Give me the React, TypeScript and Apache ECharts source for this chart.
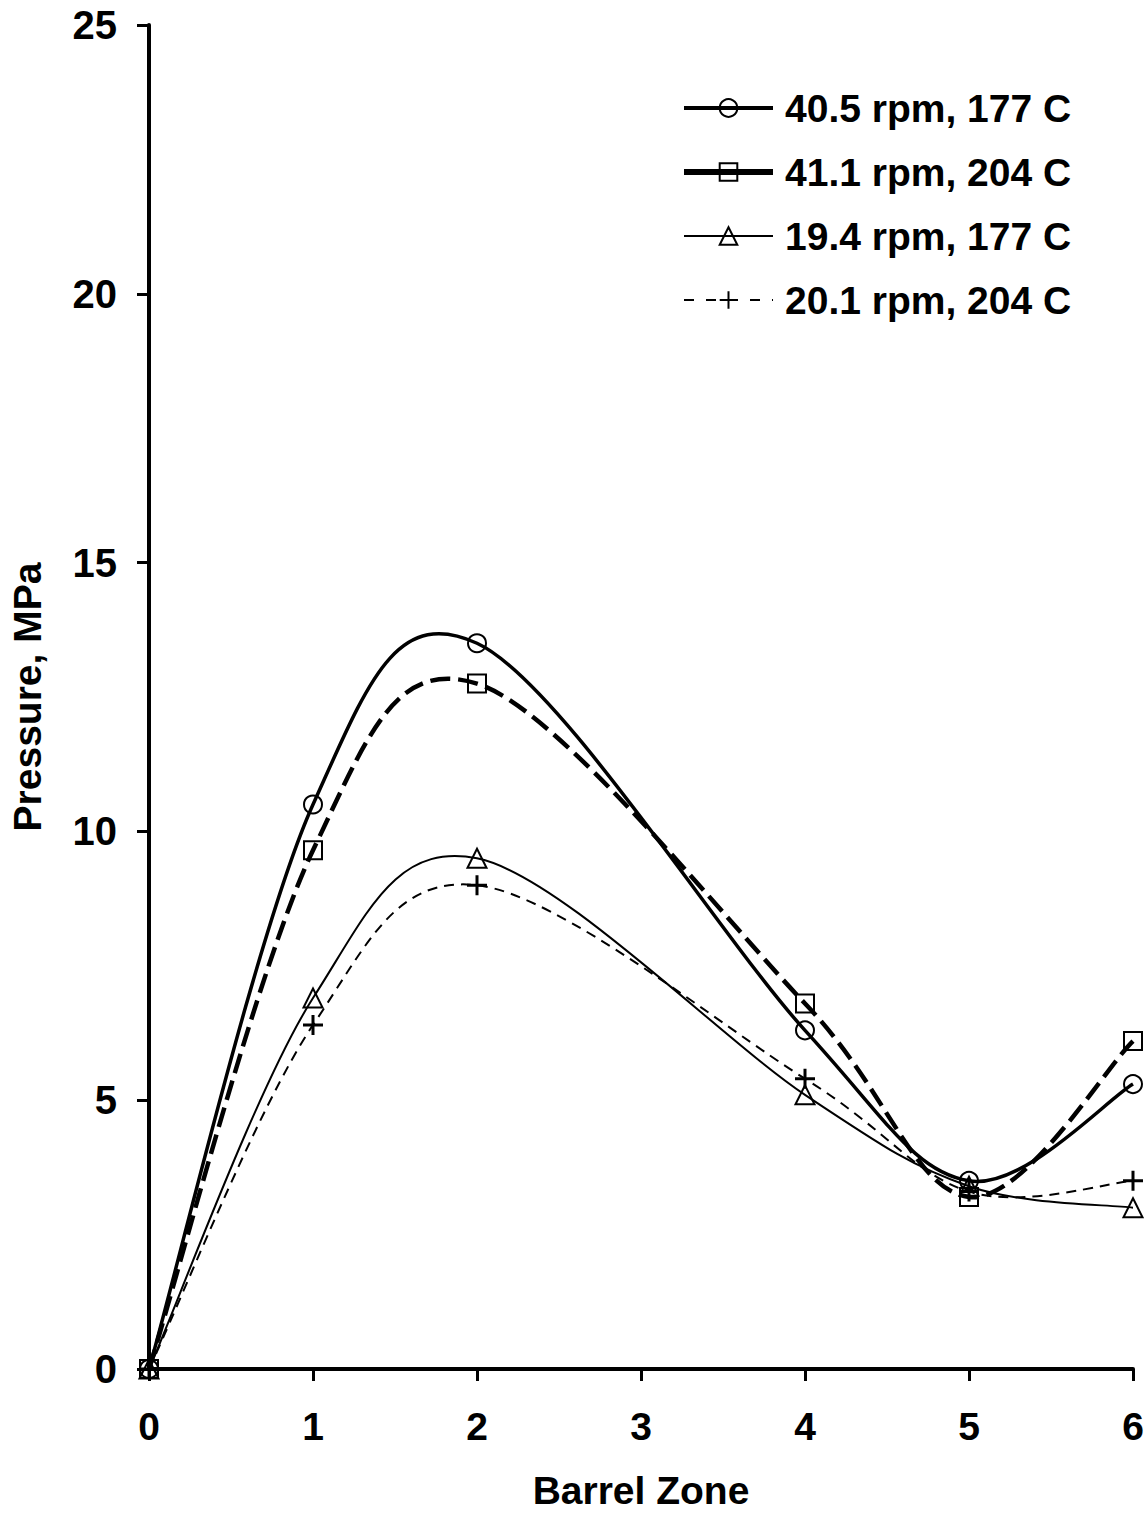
import React, { useEffect, useRef } from "react";
import * as echarts from "echarts";

const zones = [0, 1, 2, 4, 5, 6];
const s1Values = [0, 10.5, 13.5, 6.3, 3.5, 5.3];
const s2Values = [0, 9.65, 12.75, 6.8, 3.2, 6.1];
const s3Values = [0, 6.9, 9.5, 5.1, 3.4, 3.0];
const s4Values = [0, 6.4, 9.0, 5.4, 3.3, 3.5];
const seriesNames = ["40.5 rpm, 177 C", "41.1 rpm, 204 C", "19.4 rpm, 177 C", "20.1 rpm, 204 C"];
const yTicks = [0, 5, 10, 15, 20, 25];
const xTicks = [0, 1, 2, 3, 4, 5, 6];

const FONT = "Liberation Sans, Arial, sans-serif";
const PLUS = "path://M5,0 L5,10 M0,5 L10,5";

function pairs(vals: number[]) {
  return zones.map((z, i) => [z, vals[i]]);
}

// Excel-like smoothed line (Catmull-Rom through the points, via the axis scales)
function smoothCurveSeries(vals: number[], width: number, dash: number[] | null, z: number) {
  const data = pairs(vals);
  return {
    type: "custom",
    silent: true,
    z,
    clip: false,
    data,
    encode: { x: 0, y: 1 },
    renderItem: (params: any, api: any) => {
      if (params.dataIndex !== 0) return null;
      const p = data.map((d) => api.coord(d));
      const n = p.length;
      let d = `M${p[0][0]},${p[0][1]}`;
      for (let i = 0; i < n - 1; i++) {
        const p0 = p[Math.max(i - 1, 0)];
        const p1 = p[i];
        const p2 = p[i + 1];
        const p3 = p[Math.min(i + 2, n - 1)];
        const c1x = p1[0] + (p2[0] - p0[0]) / 6;
        const c1y = p1[1] + (p2[1] - p0[1]) / 6;
        const c2x = p2[0] - (p3[0] - p1[0]) / 6;
        const c2y = p2[1] - (p3[1] - p1[1]) / 6;
        d += ` C${c1x},${c1y} ${c2x},${c2y} ${p2[0]},${p2[1]}`;
      }
      return {
        type: "path",
        shape: { pathData: d },
        style: { stroke: "#000", lineWidth: width, fill: "none", lineDash: dash || undefined },
      };
    },
  };
}

export default function App() {
  const ref = useRef<HTMLDivElement>(null);
  useEffect(() => {
    document.body.style.margin = "0";
    const chart = echarts.init(ref.current!, null, { renderer: "svg" });
    const hollow = (bw: number) => ({ color: "rgba(255,255,255,0)", borderColor: "#000", borderWidth: bw });
    const markerSeries = (name: string, vals: number[], symbol: string, bw: number, size: number) => ({
      name,
      type: "line",
      data: pairs(vals),
      clip: false,
      symbol,
      symbolSize: size,
      lineStyle: { color: "#000", opacity: 0 },
      itemStyle: hollow(bw),
      z: 10,
    });
    chart.setOption({
      animation: false,
      backgroundColor: "#fff",
      grid: { left: 148, right: 14, top: 25, bottom: 139, containLabel: false },
      xAxis: {
        type: "value",
        min: xTicks[0],
        max: xTicks[xTicks.length - 1],
        interval: 1,
        name: "Barrel Zone",
        nameLocation: "middle",
        nameGap: 102,
        nameTextStyle: { fontSize: 39, fontWeight: "bold", color: "#000", fontFamily: FONT },
        axisLine: { onZero: false, lineStyle: { color: "#000", width: 4 } },
        axisTick: { inside: false, length: 12, lineStyle: { color: "#000", width: 3 } },
        axisLabel: { margin: 38, fontSize: 39, fontWeight: "bold", color: "#000", fontFamily: FONT },
        splitLine: { show: false },
      },
      yAxis: {
        type: "value",
        min: yTicks[0],
        max: yTicks[yTicks.length - 1],
        interval: 5,
        name: "Pressure, MPa",
        nameLocation: "middle",
        nameGap: 102,
        nameTextStyle: { fontSize: 39, fontWeight: "bold", color: "#000", fontFamily: FONT },
        axisLine: { show: true, onZero: false, lineStyle: { color: "#000", width: 4 } },
        axisTick: { show: true, inside: false, length: 12, lineStyle: { color: "#000", width: 3 } },
        axisLabel: { margin: 32, fontSize: 40, fontWeight: "bold", color: "#000", fontFamily: FONT },
        splitLine: { show: false },
      },
      legend: {
        orient: "vertical",
        left: 676,
        top: 81,
        itemWidth: 89,
        itemHeight: 22,
        itemGap: 20,
        textStyle: { fontSize: 39, fontWeight: "bold", color: "#000", fontFamily: FONT, lineHeight: 44, padding: [0, 0, 0, 7] },
        data: [
          { name: seriesNames[0], lineStyle: { color: "#000", opacity: 1, type: "solid", width: 4 } },
          { name: seriesNames[1], lineStyle: { color: "#000", opacity: 1, type: "solid", width: 6 } },
          { name: seriesNames[2], lineStyle: { color: "#000", opacity: 1, type: "solid", width: 2 } },
          { name: seriesNames[3], lineStyle: { color: "#000", opacity: 1, type: [10, 12], width: 2 } },
        ],
      },
      series: [
        smoothCurveSeries(s4Values, 2, [10, 7], 1),
        smoothCurveSeries(s3Values, 2, null, 2),
        smoothCurveSeries(s2Values, 4.5, [20, 8], 3),
        smoothCurveSeries(s1Values, 3.5, null, 4),
        markerSeries(seriesNames[0], s1Values, "circle", 2, 18),
        markerSeries(seriesNames[1], s2Values, "rect", 2, 18),
        markerSeries(seriesNames[2], s3Values, "triangle", 2, 19),
        markerSeries(seriesNames[3], s4Values, PLUS, 3, 20),
      ],
    });
    return () => chart.dispose();
  }, []);
  return <div ref={ref} style={{ width: 1147, height: 1515 }} />;
}
